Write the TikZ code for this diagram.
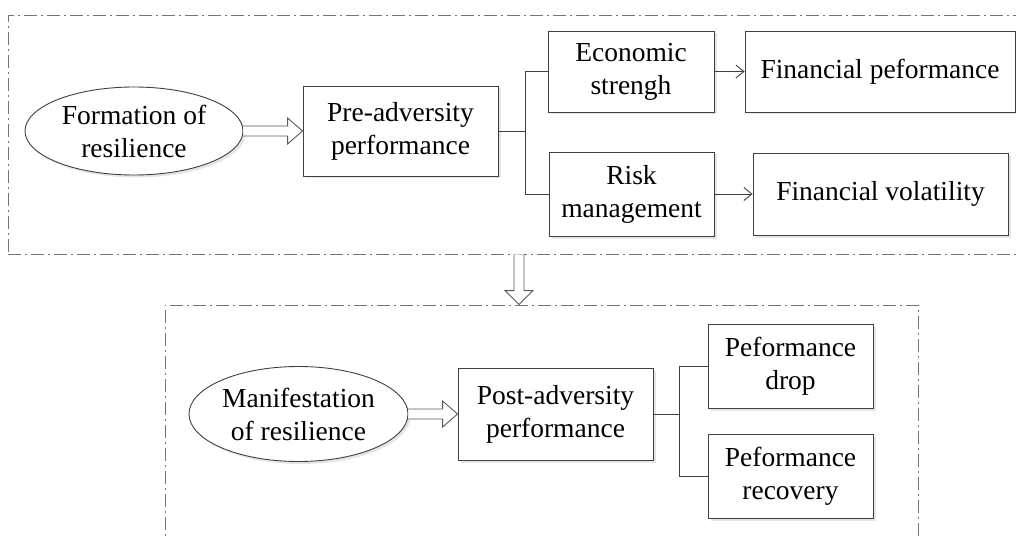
\documentclass[tikz,border=0pt]{standalone}
\usepackage{fontspec}
\setmainfont{Liberation Serif}
\usetikzlibrary{positioning,arrows.meta,shapes,calc,shadows}

\begin{document}
\begin{tikzpicture}[
  x=1pt, y=-1pt,
  font=\fontsize{27.5}{33}\selectfont,
  box/.style={
    rectangle, draw=black!75, line width=0.9pt, fill=white,
    align=center, inner sep=0pt,
    drop shadow={shadow xshift=2.5pt, shadow yshift=-2.5pt,
                 fill=black!10, opacity=1},
  },
  oval/.style={box, ellipse},
  group/.style={rectangle, draw=black!55, line width=0.9pt, inner sep=0pt,
                dash pattern=on 13pt off 4pt on 2pt off 4pt},
  link/.style={draw=black!75, line width=0.9pt},
  flow/.style={link, -{Straight Barb[length=8pt,width=13pt]}},
  hollow/.style={draw=black!65, line width=0.9pt, fill=white, line join=miter},
]
\useasboundingbox (0,0) rectangle (1016,537);
\clip (0,0) rectangle (1016,537);

% the two dashed frames
\node[group, minimum width=1022pt, minimum height=239pt] (top) at (519,134.5) {};
\node[group, minimum width=753pt,  minimum height=260pt] (bot) at (541.5,435) {};

% formation (upper frame)
\node[oval, minimum width=218pt, minimum height=88pt] (form) at (134,131) {Formation of\\resilience};
\node[box, minimum width=195pt, minimum height=90pt]  (pre)  at (400.5,131) {Pre-adversity\\performance};
\node[box, minimum width=166pt, minimum height=81pt]  (econ) at (631,71.5) {Economic\\strengh};
\node[box, minimum width=165pt, minimum height=84pt]  (risk) at (631.5,194) {Risk\\management};
\node[box, minimum width=270pt, minimum height=81pt]  (fperf) at (880,71.5) {Financial peformance};
\node[box, minimum width=255pt, minimum height=82pt]  (fvol)  at (880.5,194) {Financial volatility};

% manifestation (lower frame)
\node[oval, minimum width=219pt, minimum height=95pt] (mani) at (298.5,414) {Manifestation\\of resilience};
\node[box, minimum width=195pt, minimum height=92pt]  (post) at (555.5,414) {Post-adversity\\performance};
\node[box, minimum width=165pt, minimum height=84pt]  (drop) at (790.5,366) {Peformance\\drop};
\node[box, minimum width=165pt, minimum height=84pt]  (recov) at (790.5,476) {Peformance\\recovery};

% branches
\draw[link] (pre.east) -- ++(27,0) coordinate (fork1);
\draw[link] (econ.west) -| (fork1) |- (risk.west);
\draw[flow] (econ.east) -- (fperf.west);
\draw[flow] (risk.east) -- (fvol.west);

\draw[link] (post.east) -- ++(26,0) coordinate (fork2);
\draw[link] (drop.west) -| (fork2) |- (recov.west);

% hollow block arrows
\draw[hollow] ($(form.east)+(0,-5)$) -- ($(pre.west)+(-15,-5)$) -- ($(pre.west)+(-15,-13)$)
  -- (pre.west) -- ($(pre.west)+(-15,13)$) -- ($(pre.west)+(-15,5)$) -- ($(form.east)+(0,5)$);
\draw[hollow] ($(mani.east)+(0,-5)$) -- ($(post.west)+(-15,-5)$) -- ($(post.west)+(-15,-13)$)
  -- (post.west) -- ($(post.west)+(-15,13)$) -- ($(post.west)+(-15,5)$) -- ($(mani.east)+(0,5)$);

\coordinate (tip) at (top.south |- bot.north);
\draw[hollow] ($(top.south)+(-5,0)$) -- ($(tip)+(-5,-14)$) -- ($(tip)+(-14,-14)$)
  -- (tip) -- ($(tip)+(14,-14)$) -- ($(tip)+(5,-14)$) -- ($(top.south)+(5,0)$);
\end{tikzpicture}
\end{document}
